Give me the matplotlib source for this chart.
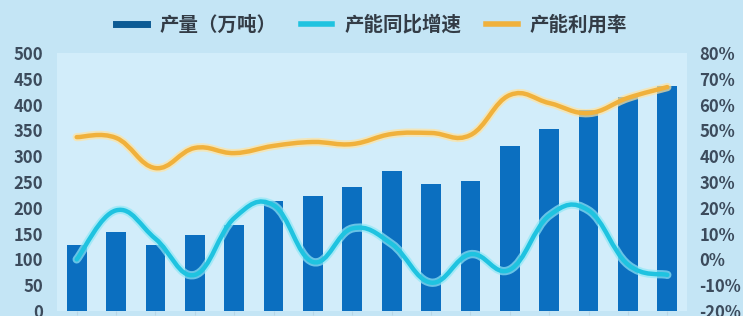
import numpy as np
import matplotlib
matplotlib.use('Agg')
import matplotlib.pyplot as plt
from matplotlib.path import Path
from matplotlib.patches import PathPatch
from matplotlib.lines import Line2D
from matplotlib.ticker import FuncFormatter

plt.rcParams['font.family'] = ['Noto Sans CJK SC', 'DejaVu Sans']

# data
output = [128, 153, 128, 147, 167, 213, 223, 240, 271, 246, 252, 320, 353, 390, 415, 436]
growth = [0, 19, 8, -6, 16, 21, -1, 12, 6, -9, 2, -4, 17, 19, -2, -6]
utilization = [47.4, 47.1, 35.4, 43.2, 41.2, 44.0, 45.5, 44.7, 48.6, 49.0, 48.2,
               63.7, 60.6, 56.7, 62.6, 66.8]
left_ticks = list(range(0, 501, 50))
right_ticks = list(range(-20, 81, 10))
labels = ['产量（万吨）', '产能同比增速', '产能利用率']

BAR = '#0b6fc0'
CYAN = '#1fc3e0'
ORANGE = '#f0b13c'
TICK = '#3c4b5c'


def smooth_path(x, y, k=0.2):
    """Catmull-Rom style smoothing drawn as cubic Bezier segments."""
    pts = np.column_stack([x, y]).astype(float)
    n = len(pts)
    verts = [pts[0]]
    codes = [Path.MOVETO]
    for i in range(n - 1):
        p0 = pts[max(i - 1, 0)]
        p1 = pts[i]
        p2 = pts[i + 1]
        p3 = pts[min(i + 2, n - 1)]
        verts += [p1 + (p2 - p0) * k, p2 - (p3 - p1) * k, p2]
        codes += [Path.CURVE4] * 3
    return Path(verts, codes)


fig = plt.figure(figsize=(7.43, 3.16), dpi=100)
fig.patch.set_facecolor('#c4e5f5')
ax = fig.add_axes([57 / 743, 5 / 316, 630 / 743, 258 / 316])
ax.set_facecolor('#d2edfa')

x = np.arange(len(output))
ax.bar(x, output, width=0.5, color=BAR, zorder=2)
ax.set_xlim(-0.5, len(output) - 0.5)
ax.set_ylim(0, 500)
ax.set_yticks(left_ticks)
ax.set_xticks(x)
ax.tick_params(axis='x', length=3, color='#b8d6e6', labelbottom=False)
ax.tick_params(axis='y', length=0, pad=10, labelsize=12, labelcolor=TICK)

ax2 = ax.twinx()
ax2.set_ylim(-20, 80)
ax2.set_yticks(right_ticks)
ax2.yaxis.set_major_formatter(FuncFormatter(lambda v, p: f'{v:.0f}%'))
ax2.tick_params(axis='y', length=0, pad=9, labelsize=12, labelcolor=TICK)

for lab in ax.get_yticklabels() + ax2.get_yticklabels():
    lab.set_fontweight('semibold')

for a in (ax, ax2):
    for s in a.spines.values():
        s.set_visible(False)

for vals, col, glow in ((growth, CYAN, '#8fe8f7'), (utilization, ORANGE, '#ffe3a0')):
    p = smooth_path(x, vals)
    ax2.add_patch(PathPatch(p, fill=False, edgecolor=glow, lw=6, alpha=0.7,
                            capstyle='round', joinstyle='round', zorder=3))
    ax2.add_patch(PathPatch(p, fill=False, edgecolor=col, lw=3.2,
                            capstyle='round', joinstyle='round', zorder=4))

handles = [Line2D([], [], color='#0c5b94', lw=5),
           Line2D([], [], color=CYAN, lw=4),
           Line2D([], [], color=ORANGE, lw=4)]
leg = fig.legend(handles, labels, loc='center', bbox_to_anchor=(0.5, 1 - 25 / 316),
                 ncol=3, frameon=False, fontsize=14, handlelength=1.6,
                 columnspacing=1.3, handletextpad=0.6, labelcolor='#333c46')
for t in leg.get_texts():
    t.set_fontweight('semibold')

fig.savefig('out.png', dpi=100, facecolor=fig.get_facecolor())
